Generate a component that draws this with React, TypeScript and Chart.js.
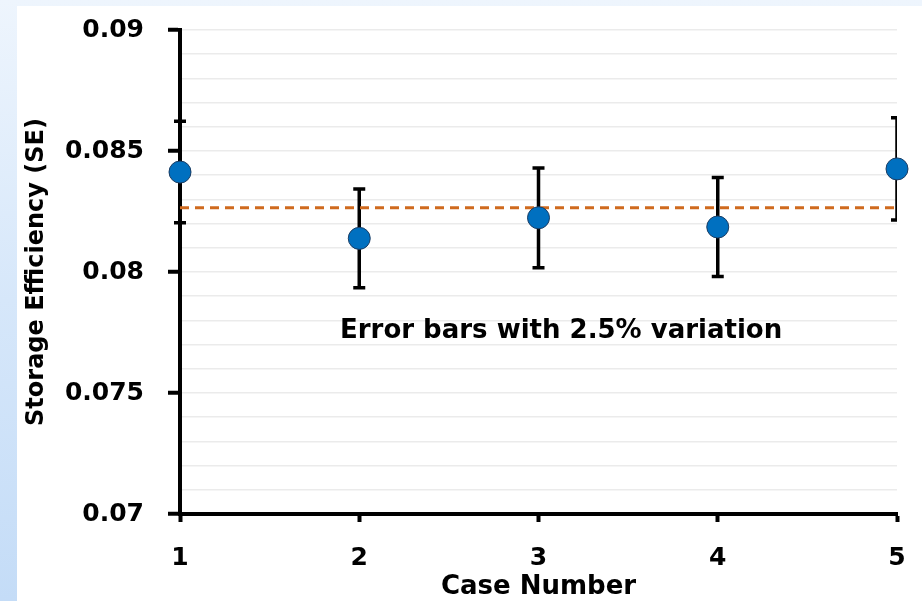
import { useEffect, useRef } from 'react';
import { Chart, registerables } from 'chart.js';

Chart.register(...registerables);

const caseNumbers = [1, 2, 3, 4, 5];
const seValues = [0.08413, 0.08139, 0.08224, 0.08186, 0.08426];
const seErrors = [0.0021, 0.00204, 0.00206, 0.00205, 0.00211];
const meanSE = 0.08266;
const yTickLabels = ['0.07', '0.075', '0.08', '0.085', '0.09'];
const annotationText = 'Error bars with 2.5% variation';
const annotationPos = { x: 3.126, y: 0.07727 };

const FONT = 'DejaVu Sans';

const isMajor = (v: number) => Math.round(v * 1000) % 5 === 0;

const errorBarPlugin = {
  id: 'errorBars',
  beforeDatasetsDraw(chart: any) {
    const { ctx, chartArea, scales } = chart;
    const xs = scales.x;
    const ys = scales.y;
    ctx.save();
    ctx.beginPath();
    ctx.rect(0, 0, chartArea.right, chart.height);
    ctx.clip();
    ctx.strokeStyle = '#000';
    ctx.lineWidth = 3.5;
    ctx.lineCap = 'butt';
    caseNumbers.forEach((c, i) => {
      const px = xs.getPixelForValue(c);
      const top = ys.getPixelForValue(seValues[i] + seErrors[i]);
      const bot = ys.getPixelForValue(seValues[i] - seErrors[i]);
      ctx.beginPath();
      ctx.moveTo(px, top);
      ctx.lineTo(px, bot);
      ctx.moveTo(px - 6, top);
      ctx.lineTo(px + 6, top);
      ctx.moveTo(px - 6, bot);
      ctx.lineTo(px + 6, bot);
      ctx.stroke();
    });
    ctx.restore();
  },
};

const annotationPlugin = {
  id: 'annotationText',
  afterDatasetsDraw(chart: any) {
    const { ctx, scales } = chart;
    ctx.save();
    ctx.font = `bold 26px "${FONT}"`;
    ctx.fillStyle = '#000';
    ctx.textAlign = 'center';
    ctx.textBaseline = 'alphabetic';
    ctx.fillText(
      annotationText,
      scales.x.getPixelForValue(annotationPos.x),
      scales.y.getPixelForValue(annotationPos.y)
    );
    ctx.restore();
  },
};

export default function App() {
  const ref = useRef<HTMLCanvasElement | null>(null);

  useEffect(() => {
    if (!ref.current) return;
    const chart = new Chart(ref.current, {
      type: 'scatter',
      data: {
        datasets: [
          {
            label: 'SE',
            data: caseNumbers.map((x, i) => ({ x, y: seValues[i] })),
            pointRadius: 11,
            pointHoverRadius: 11,
            pointBackgroundColor: '#0070C0',
            pointBorderColor: '#1c3d63',
            pointBorderWidth: 1,
            showLine: false,
            clip: false,
          } as any,
          {
            type: 'line',
            label: 'Mean',
            data: [
              { x: caseNumbers[0], y: meanSE },
              { x: caseNumbers[caseNumbers.length - 1], y: meanSE },
            ],
            borderColor: '#CF6A1E',
            borderWidth: 3,
            borderDash: [9, 6],
            pointRadius: 0,
            fill: false,
          } as any,
        ],
      },
      options: {
        animation: false,
        responsive: false,
        devicePixelRatio: 1,
        layout: { padding: { top: 30, right: 25, left: 0, bottom: 0 } },
        plugins: {
          legend: { display: false },
          tooltip: { enabled: false },
        },
        scales: {
          x: {
            type: 'linear',
            min: 1,
            max: 5,
            afterFit: (s: any) => {
              s.height = 87;
              s.paddingLeft = 0;
              s.paddingRight = 0;
            },
            ticks: {
              stepSize: 1,
              color: '#000',
              padding: 21,
              font: { family: FONT, size: 25, weight: 'bold' },
              callback: (v: any) => String(v),
            },
            grid: {
              drawOnChartArea: false,
              drawTicks: true,
              tickLength: 8,
              tickWidth: 4,
              tickColor: '#000',
            },
            border: { display: true, color: '#000', width: 4 },
            title: {
              display: true,
              text: 'Case Number',
              color: '#000',
              font: { family: FONT, size: 26, weight: 'bold' },
              padding: { top: 0, bottom: -2 },
            },
          },
          y: {
            type: 'linear',
            min: 0.07,
            max: 0.09,
            afterFit: (s: any) => {
              s.width = 180;
              s.paddingTop = 0;
              s.paddingBottom = 0;
            },
            ticks: {
              stepSize: 0.001,
              autoSkip: false,
              color: '#000',
              padding: 24,
              font: { family: FONT, size: 25, weight: 'bold' },
              callback: (v: any) => {
                const n = Number(v);
                if (!isMajor(n)) return '';
                const k = Math.round((n - 0.07) / 0.005);
                return yTickLabels[k] ?? '';
              },
            },
            grid: {
              color: '#ebebeb',
              lineWidth: 1.5,
              drawTicks: true,
              tickLength: 12,
              tickWidth: 4,
              tickColor: (c: any) =>
                c.tick && isMajor(c.tick.value) ? '#000' : 'rgba(0,0,0,0)',
            },
            border: { display: true, color: '#000', width: 4 },
            title: {
              display: true,
              text: 'Storage Efficiency (SE)',
              color: '#000',
              font: { family: FONT, size: 24, weight: 'bold' },
              padding: { top: 22, bottom: 0 },
            },
          },
        },
      } as any,
      plugins: [errorBarPlugin, annotationPlugin],
    });
    return () => chart.destroy();
  }, []);

  return (
    <div
      style={{
        position: 'fixed',
        left: 0,
        top: 0,
        width: 922,
        height: 601,
        overflow: 'hidden',
        background: 'linear-gradient(180deg, #eef5fd 0%, #d6e7fa 50%, #c4dcf7 100%)',
      }}
    >
      <div
        style={{
          position: 'absolute',
          left: 17,
          top: 6,
          right: 0,
          bottom: 0,
          background: '#ffffff',
        }}
      />
      <canvas
        ref={ref}
        width={922}
        height={601}
        style={{ position: 'absolute', left: 0, top: 0, display: 'block' }}
      />
    </div>
  );
}
